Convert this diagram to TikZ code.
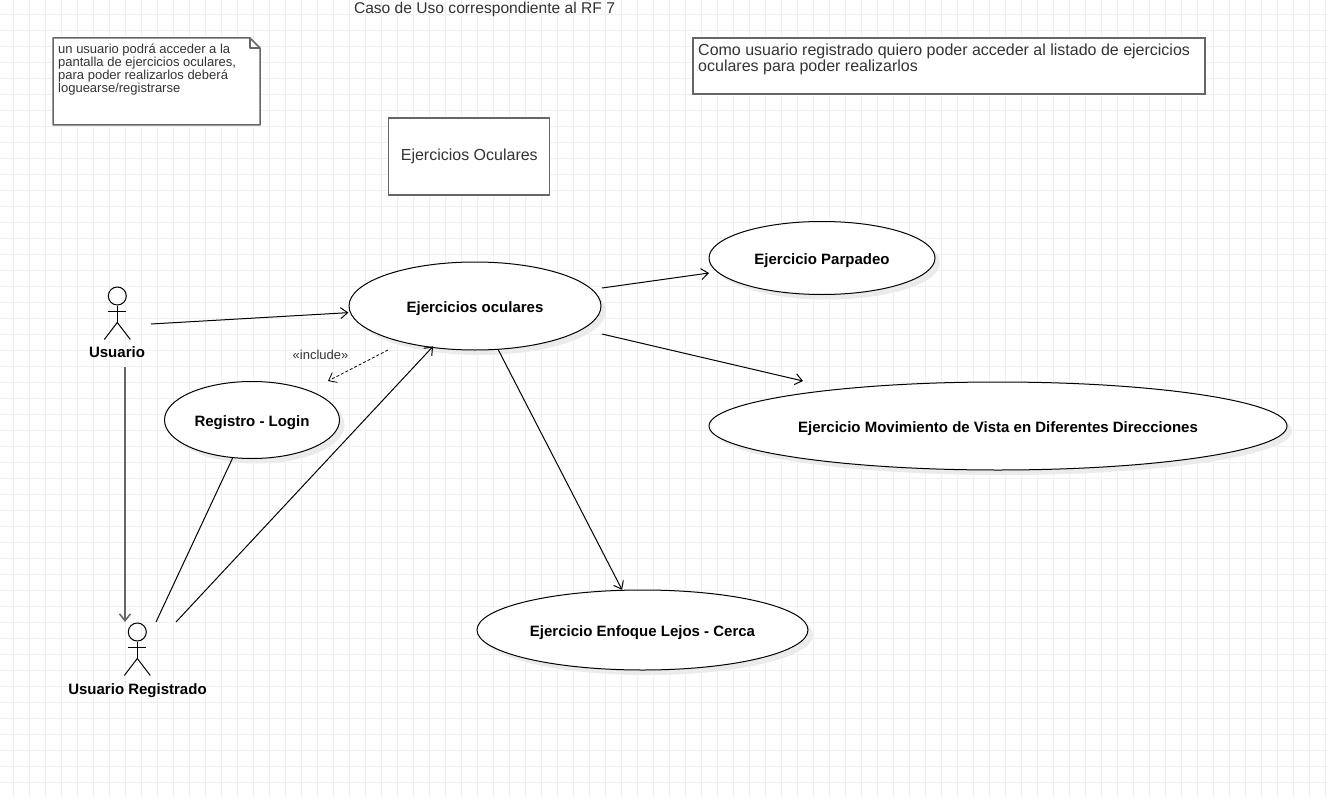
\documentclass[tikz,border=0pt]{standalone}
\usepackage{fontspec}
\setmainfont{Liberation Sans}
\usetikzlibrary{calc}
\usetikzlibrary{positioning, shapes.geometric, shadows, arrows.meta}
\definecolor{gridgray}{HTML}{F0F0F0}
\definecolor{boxgray}{HTML}{666666}
\definecolor{shadowgray}{HTML}{EBEBEB}
\definecolor{textgray}{HTML}{333333}
\tikzset{
  usecase/.style={draw, ellipse, fill=white, inner sep=0pt, line width=1pt,
    general shadow={fill=shadowgray, shadow xshift=5pt, shadow yshift=-5pt},
    text height=14pt, text depth=2pt,
    font=\fontsize{15}{16}\selectfont\bfseries},
  actorhead/.style={draw, circle, minimum size=18pt, inner sep=0pt, line width=1pt},
  actorlabel/.style={font=\fontsize{15}{16}\selectfont\bfseries, inner sep=0pt},
  assoc/.style={->, line width=1pt},
  >={Straight Barb[length=7pt,width=11pt]}
}
\begin{document}
\begin{tikzpicture}[x=1pt, y=-1pt, font=\fontsize{13}{13}\selectfont]
            \useasboundingbox (0,0) rectangle (1327,797);
            \fill[white] (0,0) rectangle (1327,797);
            \foreach\x in {13,29,...,1325}{
              \draw[gridgray] (\x+.3,0) -- (\x+.3,797);
            }
            \foreach\y in {14,30,...,790}{
              \draw[gridgray] (0,\y+.3) -- (1327,\y+.3);
            }
            % texts and boxes
            \node[font=\fontsize{15.6}{16}\selectfont, text=textgray, inner sep=0pt] (title) at (484.5,9.5) {Caso de Uso correspondiente al RF 7};
            \draw[boxgray, line width=1.5pt, fill=white, line join=round] (53,38) -- (250,38) -- (260,48) -- (260,125) -- (53,125) -- cycle;
            \draw[boxgray, line width=1.5pt, line join=round] (250,38) -- (250,48) -- (260,48);
            \node[align=left, anchor=north west, inner sep=0pt, text=textgray] (note) at (58,43.5) {
              un usuario podrá acceder a la\\
              pantalla de ejercicios oculares,\\
              para poder realizarlos deberá\\
              loguearse/registrarse
            };
            \node[draw=boxgray, line width=1.5pt, fill=white, minimum width=512pt, minimum height=56pt, inner sep=0pt] (story) at (949,66) {};
            \node[align=left, anchor=north west, inner sep=0pt, text=textgray, font=\fontsize{16}{16}\selectfont] (storytext) at (698,43.5) {
              Como usuario registrado quiero poder acceder al listado de ejercicios\\
              oculares para poder realizarlos
            };
            \node[draw=boxgray, line width=1.3pt, fill=white, minimum width=161pt, minimum height=77pt, inner sep=0pt, text=textgray, font=\fontsize{16}{16}\selectfont] (system) at (469.3,156.5) {Ejercicios Oculares};
            % use cases
            \node[usecase, minimum width=252pt, minimum height=88pt] (main) at (475,306) {Ejercicios oculares};
            \node[usecase, minimum width=226pt, minimum height=73pt] (parpadeo) at (822,258) {Ejercicio Parpadeo};
            \node[usecase, minimum width=578pt, minimum height=88pt] (movimiento) at (998,426) {Ejercicio Movimiento de Vista en Diferentes Direcciones};
            \node[usecase, minimum width=331pt, minimum height=80pt] (enfoque) at (642.5,630) {Ejercicio Enfoque Lejos - Cerca};
            \node[usecase, minimum width=175pt, minimum height=77pt] (registro) at (252,420) {Registro - Login};
            % actors
            \foreach\n/\x/\y in {usuario/117.3/296, registrado/137.3/632}{
              \node[actorhead] (\n) at (\x,\y) {};
              \draw[line width=1pt] (\n.south) -- ++(0,17) coordinate (\n hip);
              \draw[line width=1pt] ($(\n.south)+(-9,6)$) -- ($(\n.south)+(9,6)$);
              \draw[line width=1pt] (\n hip) -- ++(-13,17);
              \draw[line width=1pt] (\n hip) -- ++(13,17);
            }
            \node[actorlabel] (usuariolabel) at (117,352.5) {Usuario};
            \node[actorlabel] (registradolabel) at (137.5,690.5) {Usuario Registrado};
            % free ends
            \coordinate (usuarioout) at (151,324);
            \coordinate (usuariodown) at (125,367);
            \coordinate (registradoin) at (125,622);
            \coordinate (registradoa) at (156,622);
            \coordinate (registradob) at (176,622);
            \coordinate (includefrom) at (388,350);
            \coordinate (includeto) at (328,381);
            \coordinate (parpadeofrom) at (602,288);
            \coordinate (parpadeoto) at (709,273);
            \coordinate (movimientofrom) at (602,334);
            \coordinate (movimientoto) at (803,381);
            % connectors
            \draw[assoc, shorten >=1.5pt] (usuarioout) -- (main.183);
            \draw[assoc, boxgray, line width=1.5pt] (usuariodown) -- (registradoin);
            \draw[line width=1pt] (registro.243) -- (registradoa);
            \draw[assoc, shorten >=-2pt] (registradob) -- (main.224);
            \draw[assoc, line width=.8pt, dashed, dash pattern=on 3pt off 2pt] (includefrom) -- (includeto);
            \draw[assoc] (parpadeofrom) -- (parpadeoto);
            \draw[assoc] (movimientofrom) -- (movimientoto);
            \draw[assoc] (main.298) -- (enfoque.117);
            \node[text=textgray, inner sep=0pt] (include) at (320.5,355) {«include»};
          \end{tikzpicture}
\end{document}
